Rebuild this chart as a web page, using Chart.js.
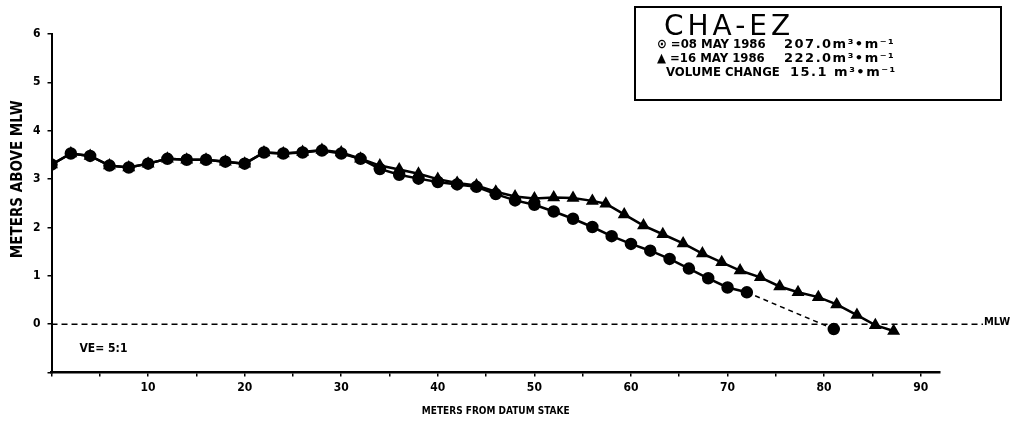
<!DOCTYPE html>
<html>
<head>
<meta charset="utf-8">
<script src="https://cdn.jsdelivr.net/npm/chart.js@4"></script>
<style>
  html, body { margin: 0; padding: 0; background: #fff; }
  #wrap { width: 1011px; height: 426px; }
</style>
</head>
<body>
<div id="wrap"><canvas id="grafica" width="1011" height="426"></canvas></div>
<script>
// 08 MAY 1986 (circles)
const mayo08X = [0, 2, 4, 6, 8, 10, 12, 14, 16, 18, 20, 22, 24, 26, 28, 30, 32, 34, 36, 38,
                 40, 42, 44, 46, 48, 50, 52, 54, 56, 58, 60, 62, 64, 66, 68, 70, 72, 81];
const mayo08Y = [3.30, 3.53, 3.48, 3.28, 3.24, 3.32, 3.42, 3.40, 3.40, 3.36, 3.32, 3.55, 3.53, 3.55, 3.59, 3.53, 3.42, 3.21, 3.09, 3.01,
                 2.94, 2.89, 2.84, 2.69, 2.56, 2.47, 2.33, 2.18, 2.01, 1.82, 1.66, 1.52, 1.35, 1.15, 0.95, 0.76, 0.66, -0.10];

// 16 MAY 1986 (triangles)
const mayo16X = [0, 2, 4, 6, 8, 10, 12, 14, 16, 18, 20, 22, 24, 26, 28, 30, 32, 34, 36, 38,
                 40, 42, 44, 46, 48, 50, 52, 54, 56, 57.4, 59.3, 61.3, 63.3, 65.4, 67.4, 69.4, 71.3, 73.4,
                 75.4, 77.3, 79.4, 81.3, 83.4, 85.3, 87.2];
const mayo16Y = [3.30, 3.53, 3.48, 3.28, 3.24, 3.32, 3.42, 3.40, 3.40, 3.36, 3.32, 3.55, 3.53, 3.56, 3.60, 3.55, 3.42, 3.28, 3.20, 3.11,
                 3.00, 2.92, 2.87, 2.74, 2.64, 2.60, 2.62, 2.61, 2.55, 2.49, 2.27, 2.04, 1.86, 1.67, 1.46, 1.28, 1.11, 0.97,
                 0.78, 0.66, 0.56, 0.41, 0.19, -0.02, -0.14];

const etiquetasX = [10, 20, 30, 40, 50, 60, 70, 80, 90];
const etiquetasY = [0, 1, 2, 3, 4, 5, 6];

const leyenda = [
    ['\u2299 =08 MAY 1986', '207.0m\u00b3\u2022m\u207b\u00b9'],
    ['\u25b2 =16 MAY 1986', '222.0m\u00b3\u2022m\u207b\u00b9'],
    ['VOLUME CHANGE', '15.1 m\u00b3\u2022m\u207b\u00b9']
];

const fuente = '"DejaVu Sans Condensed", "DejaVu Sans", sans-serif';

const puntos = (xs, ys) => xs.map((x, i) => ({ x: x, y: ys[i] }));
const ultimo = mayo08X.length - 1;

// linea MLW, recuadro de leyenda y textos sueltos
const extras = {
    id: 'extras',
    beforeDatasetsDraw(chart) {
        const ctx = chart.ctx;
        const sx = chart.scales.x, sy = chart.scales.y;
        const y0 = sy.getPixelForValue(0);
        ctx.save();
        ctx.strokeStyle = '#000';
        ctx.lineWidth = 1.5;
        ctx.setLineDash([6, 4]);
        ctx.beginPath();
        ctx.moveTo(sx.getPixelForValue(0), y0);
        ctx.lineTo(chart.width - 28, y0);
        ctx.stroke();
        ctx.restore();
    },
    afterDraw(chart) {
        const ctx = chart.ctx;
        const sy = chart.scales.y;
        const y0 = sy.getPixelForValue(0);
        ctx.save();
        ctx.fillStyle = '#000';
        ctx.textBaseline = 'middle';
        ctx.font = 'bold 11px ' + fuente;
        ctx.fillText('MLW', chart.width - 27, y0 - 2);
        ctx.font = 'bold 12px ' + fuente;
        ctx.fillText('VE= 5:1', chart.chartArea.left + 28, sy.getPixelForValue(-0.5));

        // titulo del eje y (algo por encima del centro, como en el original)
        ctx.save();
        ctx.translate(18, (chart.chartArea.top + chart.chartArea.bottom) / 2 - 24);
        ctx.rotate(-Math.PI / 2);
        ctx.textAlign = 'center';
        ctx.font = 'bold 15px ' + fuente;
        ctx.fillText('METERS ABOVE MLW', 0, 0);
        ctx.restore();

        // recuadro
        ctx.lineWidth = 2;
        ctx.strokeStyle = '#000';
        ctx.strokeRect(635, 7, 366, 93);
        ctx.textBaseline = 'alphabetic';
        ctx.font = '28px "DejaVu Sans", sans-serif';
        ctx.letterSpacing = '4px';
        ctx.fillText('CHA-EZ', 664, 35);
        ctx.letterSpacing = '0px';
        leyenda.forEach((fila, i) => {
            const yy = 48 + i * 14;
            ctx.font = 'bold 13px ' + fuente;
            ctx.letterSpacing = '0px';
            ctx.fillText(fila[0], i === 2 ? 666 : 657, yy);
            ctx.font = 'bold 13px "DejaVu Sans", sans-serif';
            ctx.letterSpacing = '1.5px';
            ctx.fillText(fila[1], i === 2 ? 790 : 784, yy);
        });
        ctx.restore();
    }
};

new Chart(document.querySelector('#grafica'), {
    type: 'line',
    data: {
        datasets: [{
            label: '16 MAY 1986',
            data: puntos(mayo16X, mayo16Y),
            borderColor: '#000',
            backgroundColor: '#000',
            borderWidth: 2.5,
            pointStyle: 'triangle',
            pointRadius: 5,
            tension: 0
        }, {
            label: '08 MAY 1986',
            data: puntos(mayo08X, mayo08Y),
            borderColor: '#000',
            backgroundColor: '#000',
            borderWidth: 2.5,
            pointStyle: 'circle',
            pointRadius: 5,
            tension: 0,
            segment: {
                borderDash: c => c.p1DataIndex === ultimo ? [5, 4] : undefined,
                borderWidth: c => c.p1DataIndex === ultimo ? 1.5 : undefined
            }
        }]
    },
    options: {
        responsive: false,
        animation: false,
        layout: { padding: { left: 26, right: 71, top: 34, bottom: 9 } },
        plugins: { legend: { display: false }, tooltip: { enabled: false } },
        scales: {
            x: {
                type: 'linear',
                min: 0,
                max: 92,
                grid: { drawOnChartArea: false, color: '#000', tickLength: 4, lineWidth: 1.5 },
                border: { color: '#000', width: 2.5 },
                ticks: {
                    stepSize: 5,
                    includeBounds: false,
                    autoSkip: false,
                    maxRotation: 0,
                    color: '#000',
                    padding: 4,
                    font: { family: fuente, size: 12, weight: 'bold' },
                    callback: v => etiquetasX.includes(v) ? String(v) : ''
                },
                title: {
                    display: true,
                    text: 'METERS FROM DATUM STAKE',
                    color: '#000',
                    font: { family: fuente, size: 10, weight: 'bold' },
                    padding: { top: 6, bottom: 0 }
                }
            },
            y: {
                min: -1,
                max: 6,
                grid: { drawOnChartArea: false, color: '#000', tickLength: 4, lineWidth: 1.5 },
                border: { color: '#000', width: 2 },
                ticks: {
                    stepSize: 1,
                    color: '#000',
                    padding: 7,
                    font: { family: fuente, size: 12, weight: 'bold' },
                    callback: v => etiquetasY.includes(v) ? String(v) : ''
                }
            }
        }
    },
    plugins: [extras]
});
</script>
</body>
</html>
